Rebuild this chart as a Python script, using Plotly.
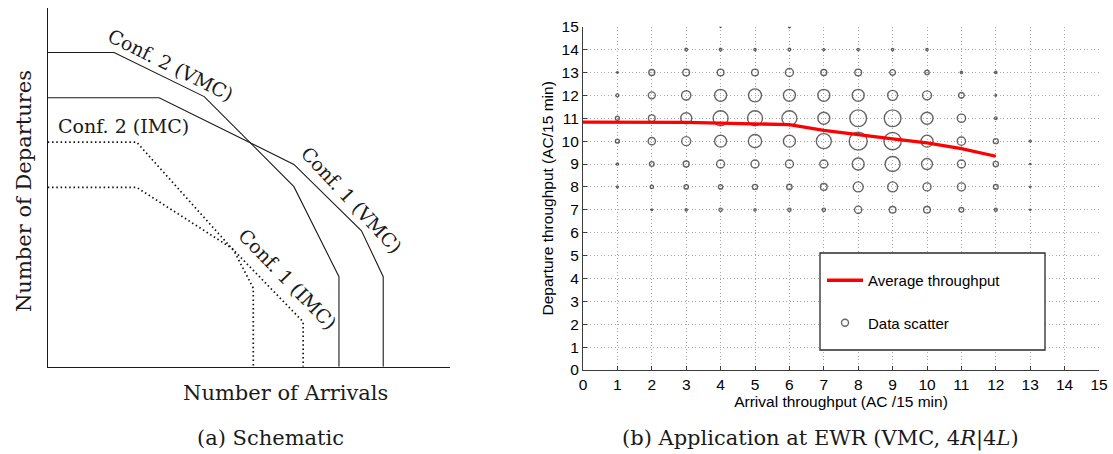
import plotly.graph_objects as go

# ---------------- data ----------------
# (a) schematic capacity envelopes (arbitrary units, 0-100)
conf2_vmc_arr = [0, 16.5, 38.9, 61.2, 72.4, 72.4]
conf2_vmc_dep = [87.6, 87.6, 75.3, 50.2, 25.1, 0]
conf1_vmc_arr = [0, 27.7, 61.2, 78.0, 83.4, 83.4]
conf1_vmc_dep = [75.0, 75.0, 56.4, 37.9, 25.1, 0]
conf2_imc_arr = [0, 22.1, 46.3, 51.1, 51.1]
conf2_imc_dep = [62.6, 62.6, 32.3, 21.9, 0]
conf1_imc_arr = [0, 22.1, 45.8, 63.5, 63.5]
conf1_imc_dep = [50.0, 50.0, 33.0, 12.5, 0]

# (b) EWR data scatter: marker diameter per (arrival, departure) cell
arrival_levels = [1, 2, 3, 4, 5, 6, 7, 8, 9, 10, 11, 12, 13]
departure_levels = [15, 14, 13, 12, 11, 10, 9, 8, 7]
dep15 = [0, 0, 0, 1.5, 0, 2, 0, 0, 0, 0, 0, 0, 0]
dep14 = [0, 0, 2.7, 2.7, 2.3, 2.7, 2, 2.3, 2.3, 2.3, 0, 0, 0]
dep13 = [1.5, 6, 6.7, 6.7, 6.7, 8, 6, 6.7, 5.7, 4.3, 2.3, 2.3, 0]
dep12 = [3, 7, 9.3, 12, 13, 12, 12, 12, 10, 9, 5.7, 1.7, 0]
dep11 = [4, 6.7, 11, 15, 15, 15, 12, 16.7, 16.7, 12, 8.3, 2.7, 0]
dep10 = [4, 7.3, 9, 12, 13.3, 12, 15, 18, 17.3, 12, 8.3, 5, 2]
dep9 = [2.3, 4.7, 6, 8, 8, 8, 8, 12, 15, 11, 8, 5.3, 1.3]
dep8 = [1.7, 3.3, 4.3, 4.3, 5, 5.3, 6.7, 10, 10, 8, 8, 4.7, 1.3]
dep7 = [0, 1.7, 2.3, 3.3, 2.3, 3.3, 3.3, 7.3, 6.7, 6.7, 4.7, 3, 1.3]
size_rows = [dep15, dep14, dep13, dep12, dep11, dep10, dep9, dep8, dep7]

# (b) average throughput curve
avg_arr = [0, 1, 2, 3, 4, 5, 6, 7, 8, 9, 10, 11, 12]
avg_dep = [10.83, 10.83, 10.83, 10.82, 10.79, 10.76, 10.72, 10.47, 10.3, 10.1, 9.92, 9.67, 9.34]

ticks = list(range(0, 16))

# ---------------- figure ----------------
W, H = 1113, 454
fig = go.Figure()

serif = "DejaVu Serif"
sans = "Liberation Sans"

# left schematic
solid = dict(color="#1a1a1a", width=1.1)
dotted = dict(color="#111111", width=1.7, dash="1.5px,2.8px")
for xs, ys, ln in [(conf2_vmc_arr, conf2_vmc_dep, solid),
                   (conf1_vmc_arr, conf1_vmc_dep, solid),
                   (conf2_imc_arr, conf2_imc_dep, dotted),
                   (conf1_imc_arr, conf1_imc_dep, dotted)]:
    fig.add_trace(go.Scatter(x=xs, y=ys, mode="lines", line=ln,
                             xaxis="x2", yaxis="y2", showlegend=False,
                             hoverinfo="skip"))

# right scatter
sx, sy, ss = [], [], []
for dep, row in zip(departure_levels, size_rows):
    for arr, d in zip(arrival_levels, row):
        if d > 0:
            sx.append(arr)
            sy.append(dep)
            ss.append(d)
fig.add_trace(go.Scatter(x=sx, y=sy, mode="markers", name="Data scatter",
                         marker=dict(symbol="circle-open", size=ss,
                                     color="#262626", line=dict(width=1.4, color="#262626")),
                         legendgroup="b", legendrank=2))
fig.add_trace(go.Scatter(x=avg_arr, y=avg_dep, mode="lines", name="Average throughput",
                         line=dict(color="#ff0000", width=3.3),
                         legendgroup="a", legendrank=1))

def px_x(p):
    return p / W

def px_y(p):
    return (H - p) / H

grid = dict(showgrid=True, gridcolor="#a8a8a8", gridwidth=1, griddash="1px,2.5px",
            zeroline=False, showline=True, linecolor="#3c3c3c", linewidth=1.2,
            ticks="inside", ticklen=4, tickcolor="#3c3c3c", tickwidth=1,
            tickmode="array", tickvals=ticks, ticktext=[str(t) for t in ticks],
            tickfont=dict(family=sans, size=15.5, color="black"), mirror=False)

fig.update_layout(
    width=W, height=H, autosize=False, template="none",
    margin=dict(l=0, r=0, t=0, b=0),
    paper_bgcolor="white", plot_bgcolor="white",
    xaxis=dict(domain=[px_x(583), px_x(1099)], range=[0, 15], anchor="y",
               title=dict(text="Arrival throughput (AC /15 min)",
                          font=dict(family=sans, size=15.5, color="black"), standoff=4),
               **grid),
    yaxis=dict(domain=[px_y(370), px_y(26.7)], range=[0, 15], anchor="x",
               title=dict(text="Departure throughput (AC/15 min)",
                          font=dict(family=sans, size=15.5, color="black"), standoff=4),
               **grid),
    xaxis2=dict(domain=[px_x(47.7), px_x(450)], range=[0, 100], anchor="y2",
                showgrid=False, zeroline=False, showline=True, linecolor="#1a1a1a",
                linewidth=1.2, ticks="", showticklabels=False),
    yaxis2=dict(domain=[px_y(366.7), px_y(8)], range=[0, 100], anchor="x2",
                showgrid=False, zeroline=False, showline=True, linecolor="#1a1a1a",
                linewidth=1.2, ticks="", showticklabels=False),
    showlegend=True,
    legend=dict(x=px_x(822), y=px_y(264), xanchor="left", yanchor="top",
                bgcolor="rgba(0,0,0,0)", borderwidth=0, traceorder="grouped",
                tracegroupgap=20, font=dict(family=sans, size=15, color="black"),
                itemwidth=36),
    shapes=[dict(type="rect", xref="paper", yref="paper",
                 x0=px_x(820), x1=px_x(1045), y0=px_y(350), y1=px_y(253),
                 line=dict(color="#2a2a2a", width=1.3), fillcolor="white", layer="above")],
)

ann = []
lab_font = dict(family=serif, size=19, color="#1a1a1a")
for txt, ax_, ay_, ang in [("Conf. 2 (VMC)", 30.6, 84.1, 26.6),
                           ("Conf. 2 (IMC)", 18.8, 67.1, 0),
                           ("Conf. 1 (VMC)", 75.6, 46.5, 47),
                           ("Conf. 1 (IMC)", 59.6, 24.4, 46)]:
    ann.append(dict(text=txt, x=ax_, y=ay_, xref="x2", yref="y2", showarrow=False,
                    textangle=ang, font=lab_font, xanchor="center", yanchor="middle"))
title_font = dict(family=serif, size=21, color="#1a1a1a")
for txt, px, py, ang in [("Number of Departures", 24, 191, -90),
                         ("Number of Arrivals", 285, 393, 0),
                         ("(a) Schematic", 270, 438, 0),
                         ("(b) Application at EWR (VMC, 4<i>R</i>|4<i>L</i>)", 820, 438, 0)]:
    ann.append(dict(text=txt, x=px_x(px), y=px_y(py), xref="paper", yref="paper",
                    showarrow=False, textangle=ang, font=title_font,
                    xanchor="center", yanchor="middle"))
fig.update_layout(annotations=ann)

fig.write_html("out.html", config={"displayModeBar": False},
               post_script="document.body.style.margin='0px';document.body.style.overflow='hidden';")
